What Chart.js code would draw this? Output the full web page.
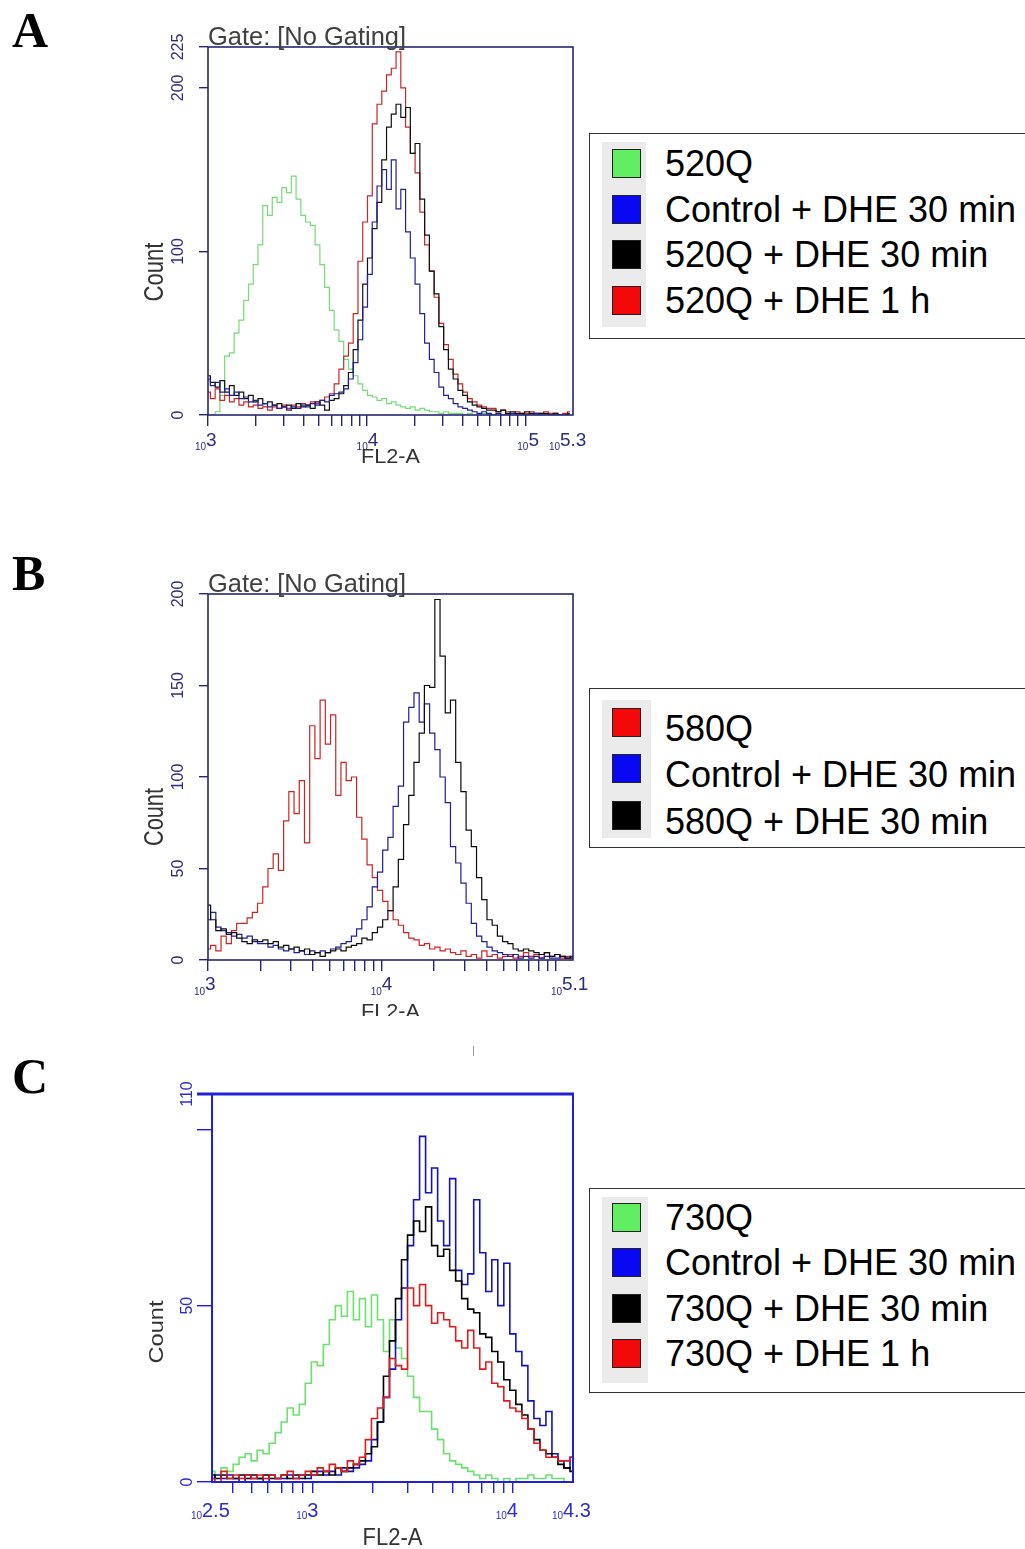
<!DOCTYPE html>
<html>
<head>
<meta charset="utf-8">
<script src="https://cdn.jsdelivr.net/npm/chart.js@4/dist/chart.umd.min.js"></script>
<style>
body { margin: 0; background: #fff; }
#page { position: relative; width: 1025px; height: 1549px; overflow: hidden; background: #fff; font-family: "Liberation Sans", Arial, sans-serif; }
canvas { position: absolute; }
.letter { position: absolute; left: 12px; font: bold 50px "Liberation Serif", "Times New Roman", serif; line-height: 50px; color: #000; }
.lgbox { position: absolute; box-sizing: border-box; border: 1px solid #333; background: #fff; }
.shade { position: absolute; background: #ebebeb; }
.sw { position: absolute; box-sizing: border-box; width: 29px; height: 29px; border: 1px solid #222; }
.tx { position: absolute; left: 665px; font-size: 36px; line-height: 36px; color: #000; white-space: nowrap; }
</style>
</head>
<body>
<div id="page">
  <div class="letter" style="top:5px">A</div>
  <div class="letter" style="top:548px">B</div>
  <div class="letter" style="top:1051px">C</div>
  <canvas id="chartA" width="470" height="470" style="left:130px;top:20px"></canvas>
  <canvas id="chartB" width="470" height="456" style="left:130px;top:560px"></canvas>
  <canvas id="chartC" width="470" height="479" style="left:130px;top:1070px"></canvas>
  <div style="position:absolute;left:473px;top:1046px;width:1px;height:10px;background:#999"></div>
</div>
<script>
// histogram channels: first bin exponent (log10 FL2-A) and bin width in decades
const binStartA = 3.0, binStartB = 3.0, binStartC = 2.5, binWidth = 0.03;

// panel A counts
const countsA_520Q = [0,0,2,12,36,38,50,58,70,80, 92,104,128,122,133,130,139,136,146,132, 122,118,116,104,92,78,64,52,45,34, 28,24,19,15,12,11,9,10,7,8, 6,5,4,5,3,4,3,2,2,1, 2,1,1,1,0,1,0,0,1,0, 0,1,0,0,0,0,0,0,1,0, 0,0,0,0,0,0,0];
const countsA_control = [22,18,20,14,16,12,14,10,11,8, 9,6,7,5,6,4,5,3,5,4, 6,5,7,6,9,8,12,13,14,16, 22,32,46,66,86,118,140,150,138,156, 126,138,112,96,80,62,44,34,26,17, 12,10,7,5,4,3,2,1,2,1, 0,1,0,0,1,0,0,0,0,1, 0,0,0,0,0,0,0];
const countsA_dhe30 = [24,20,17,21,14,18,12,14,10,12, 8,10,7,8,6,7,5,6,4,7, 5,6,4,8,6,3,9,10,13,18, 26,40,58,80,96,114,130,156,176,184, 190,182,188,160,166,132,110,88,74,54, 40,28,22,15,12,8,6,5,4,3, 3,2,3,1,2,1,1,2,1,0, 1,1,0,1,0,0,1];
const countsA_dhe1h = [14,10,16,9,12,8,10,6,8,5, 6,4,5,3,5,4,6,4,6,5, 7,6,8,7,9,11,13,19,28,36, 44,62,94,118,134,178,190,198,208,212, 222,200,176,160,148,124,104,88,72,56, 43,34,25,19,14,10,8,6,5,4, 4,2,3,2,1,2,1,1,2,1, 1,2,1,1,0,1,2];

// panel B counts
const countsB_580Q = [6,8,5,13,9,16,20,20,23,26, 31,40,50,58,49,76,92,80,98,64, 128,110,142,118,134,90,108,98,100,78, 66,52,45,38,32,27,22,19,15,12, 11,8,9,6,7,5,6,4,3,5, 2,3,1,5,2,3,1,2,3,1, 2,4,2,3,1,4,2,3,1,2, 1];
const countsB_control = [22,26,18,16,15,13,14,12,13,10, 9,9,7,8,6,5,6,4,5,3, 5,4,5,4,6,7,9,10,13,17, 22,29,40,48,60,67,84,95,130,138, 146,130,140,124,115,100,86,62,53,42, 31,20,13,10,7,5,4,3,2,3, 1,2,1,2,1,2,1,1,2,1, 1];
const countsB_dhe30 = [30,22,16,17,14,15,12,10,9,11, 10,11,9,10,7,8,6,7,5,6, 3,4,2,4,5,6,5,7,8,9, 12,11,15,18,22,27,40,55,74,90, 108,124,150,149,197,166,135,142,108,92, 71,62,45,33,22,19,13,10,9,6, 5,6,5,4,3,4,2,3,2,1, 2];

// panel C counts
const countsC_730Q = [3,2,4,3,5,7,8,6,9,8, 11,14,17,21,19,22,28,34,33,39, 46,50,47,54,46,52,44,53,46,37, 46,38,35,30,24,20,20,15,12,8, 6,5,4,3,2,1,2,1,0,1, 0,1,1,2,1,1,2,1,1,0, 0];
const countsC_control = [1,2,1,2,1,0,2,1,1,0, 2,1,1,2,1,2,1,2,3,2, 3,2,4,3,4,5,6,12,17,24, 32,46,55,67,80,98,82,89,74,67, 86,60,56,59,80,65,54,63,50,62, 42,37,33,23,18,16,20,8,6,4, 7];
const countsC_dhe30 = [2,1,2,1,1,2,1,2,1,2, 1,1,2,1,2,1,2,3,2,3, 2,4,3,4,5,6,8,10,17,30, 40,52,63,70,74,71,78,67,64,66, 60,57,52,49,48,42,41,37,34,29, 26,22,19,15,12,9,8,7,5,4, 3];
const countsC_dhe1h = [1,0,3,1,2,1,2,1,2,1, 2,1,2,3,1,2,3,2,4,3, 5,4,3,6,5,7,12,18,21,24, 35,33,32,55,50,56,50,45,48,46, 44,40,38,43,38,32,34,28,27,23, 21,20,18,15,11,9,7,7,6,6, 7];

// axes: x ranges (log10), labelled exponents, y ticks
const xRangeA = [3, 5.3], xRangeB = [3, 5.1], xRangeC = [2.5, 4.3];
const xLabelExpA = [3, 4, 5, 5.3], xLabelTextA = ['3', '4', '5', '5.3'];
const xLabelExpB = [3, 4, 5.1], xLabelTextB = ['3', '4', '5.1'];
const xLabelExpC = [2.5, 3, 4, 4.3], xLabelTextC = ['2.5', '3', '4', '4.3'];
const xTicksA = [1000,2000,3000,4000,5000,6000,7000,8000,9000,10000,20000,30000,40000,50000,60000,70000,80000,90000,100000];
const xTicksB = xTicksA;
const xTicksC = [400,500,600,700,800,900,1000,2000,3000,4000,5000,6000,7000,8000,9000,10000];
const yTicksA = [0, 100, 200, 225], yTextA = ['0', '100', '200', '225'];
const yTicksB = [0, 50, 100, 150, 200], yTextB = ['0', '50', '100', '150', '200'];
const yTicksC = [0, 50, 100, 110], yTextC = ['0', '50', '', '110'];

// legends
const legendLabelsA = ['520Q', 'Control + DHE 30 min', '520Q + DHE 30 min', '520Q + DHE 1 h'];
const legendLabelsB = ['580Q', 'Control + DHE 30 min', '580Q + DHE 30 min'];
const legendLabelsC = ['730Q', 'Control + DHE 30 min', '730Q + DHE 30 min', '730Q + DHE 1 h'];
const legendColorsA = ['#62ee62', '#0808f2', '#000000', '#f20808'];
const legendColorsB = ['#f20808', '#0808f2', '#000000'];
const legendColorsC = ['#62ee62', '#0808f2', '#000000', '#f20808'];

function series(start, counts) {
  return counts.map((c, i) => ({ x: Math.pow(10, start + i * binWidth), y: c }));
}

function fitText(ctx, text, x, y, w, rot) {
  const m = ctx.measureText(text).width;
  ctx.save();
  ctx.translate(x, y);
  if (rot) ctx.rotate(-Math.PI / 2);
  ctx.scale(w / m, 1);
  ctx.textAlign = 'center';
  ctx.fillText(text, 0, 0);
  ctx.restore();
}

function decor(o) {
  return {
    id: 'decor',
    afterDraw(chart) {
      const ctx = chart.ctx, a = chart.chartArea;
      const xs = chart.scales.x, ys = chart.scales.y;
      ctx.save();
      ctx.strokeStyle = o.axis;
      ctx.lineWidth = o.frameW;
      ctx.strokeRect(a.left, a.top, a.right - a.left, a.bottom - a.top);
      if (o.topBar) {
        ctx.lineWidth = 3;
        ctx.beginPath();
        ctx.moveTo(a.left - o.yTickLen, a.top);
        ctx.lineTo(a.right + 1, a.top);
        ctx.stroke();
      }
      ctx.fillStyle = o.label;
      ctx.textBaseline = 'alphabetic';
      o.xLabelExp.forEach((e, i) => {
        const px = xs.getPixelForValue(Math.pow(10, e)) + o.xLabelDx[i];
        ctx.font = '10px "Liberation Sans"';
        ctx.textAlign = 'right';
        ctx.fillText('10', px, a.bottom + o.tenDy);
        ctx.font = o.expFont;
        ctx.textAlign = 'left';
        ctx.fillText(o.xLabelText[i], px, a.bottom + o.expDy);
      });
      ctx.font = '16px "Liberation Sans"';
      o.yTicks.forEach((v, i) => {
        if (!o.yText[i]) return;
        const py = ys.getPixelForValue(v);
        ctx.save();
        ctx.translate(a.left - o.yGap, py);
        ctx.rotate(-Math.PI / 2);
        ctx.textAlign = 'center';
        ctx.fillText(o.yText[i], 0, 0);
        ctx.restore();
      });
      ctx.fillStyle = '#333';
      if (o.gate) {
        ctx.fillStyle = '#404040';
        ctx.font = '26px "Liberation Sans"';
        const m = ctx.measureText('Gate: [No Gating]').width;
        ctx.save();
        ctx.translate(a.left, a.top - 2);
        ctx.scale(198 / m, 1);
        ctx.textAlign = 'left';
        ctx.fillText('Gate: [No Gating]', 0, 0);
        ctx.restore();
        ctx.fillStyle = '#333';
      }
      ctx.font = o.countFont;
      fitText(ctx, 'Count', a.left - o.countGap, (a.top + a.bottom) / 2 + o.countDy, o.countLen, true);
      ctx.font = o.flFont;
      fitText(ctx, 'FL2-A', (a.left + a.right) / 2, a.bottom + o.flDy, o.flLen, false);
      ctx.restore();
    }
  };
}

function histChart(id, o) {
  return new Chart(document.getElementById(id), {
    type: 'line',
    data: {
      datasets: o.sets.map(s => ({
        data: series(o.start, s.counts),
        borderColor: s.color,
        borderWidth: o.lineW,
        pointRadius: 0,
        stepped: 'middle',
        fill: false
      }))
    },
    options: {
      responsive: false,
      animation: false,
      devicePixelRatio: 1,
      events: [],
      layout: { padding: o.pad },
      plugins: { legend: { display: false }, tooltip: { enabled: false } },
      scales: {
        x: {
          type: 'logarithmic',
          min: Math.pow(10, o.xRange[0]),
          max: Math.pow(10, o.xRange[1]),
          afterBuildTicks: s => { s.ticks = o.xTicks.map(v => ({ value: v })); },
          afterFit: s => { s.height = 0; },
          ticks: { display: false },
          border: { display: false },
          grid: { drawOnChartArea: false, drawTicks: true, tickLength: 11, color: o.axis, lineWidth: 1.4 }
        },
        y: {
          min: 0,
          max: o.yTicks[o.yTicks.length - 1],
          afterBuildTicks: s => { s.ticks = o.yTicks.map(v => ({ value: v })); },
          afterFit: s => { s.width = 0; },
          ticks: { display: false },
          border: { display: false },
          grid: { drawOnChartArea: false, drawTicks: true, tickLength: o.yTickLen, color: o.axis, lineWidth: 1.4 }
        }
      }
    },
    plugins: [decor(o)]
  });
}

const navy = '#262675';

histChart('chartA', {
  start: binStartA, xRange: xRangeA, xTicks: xTicksA, yTicks: yTicksA, yText: yTextA,
  xLabelExp: xLabelExpA, xLabelText: xLabelTextA, xLabelDx: [-2, 1, 3, -13],
  sets: [
    { counts: countsA_control, color: '#20209a' },
    { counts: countsA_dhe30, color: '#101010' },
    { counts: countsA_dhe1h, color: '#cc2626' },
    { counts: countsA_520Q, color: '#74dc74' }
  ],
  pad: { left: 78, top: 27, right: 27, bottom: 75 },
  axis: navy, label: '#2c2c7c', frameW: 1.6, lineW: 1.2, yTickLen: 9, yGap: 25, gate: true,
  tenDy: 35, expDy: 31, expFont: '19px "Liberation Sans"',
  countFont: '27px "Liberation Sans"', countGap: 45, countDy: 41, countLen: 59,
  flFont: '21px "Liberation Sans"', flDy: 48, flLen: 59
});

histChart('chartB', {
  start: binStartB, xRange: xRangeB, xTicks: xTicksB, yTicks: yTicksB, yText: yTextB,
  xLabelExp: xLabelExpB, xLabelText: xLabelTextB, xLabelDx: [-3, 0, -11],
  sets: [
    { counts: countsB_dhe30, color: '#0c0c0c' },
    { counts: countsB_control, color: '#1e1e9e' },
    { counts: countsB_580Q, color: '#cc2424' }
  ],
  pad: { left: 78, top: 34, right: 27, bottom: 56 },
  axis: navy, label: '#2c2c7c', frameW: 1.6, lineW: 1.2, yTickLen: 9, yGap: 25, gate: true,
  tenDy: 35, expDy: 30, expFont: '19px "Liberation Sans"',
  countFont: '27px "Liberation Sans"', countGap: 45, countDy: 40, countLen: 58,
  flFont: '21px "Liberation Sans"', flDy: 58, flLen: 59
});

histChart('chartC', {
  start: binStartC, xRange: xRangeC, xTicks: xTicksC, yTicks: yTicksC, yText: yTextC,
  xLabelExp: xLabelExpC, xLabelText: xLabelTextC, xLabelDx: [-10, -5, -6, -10],
  sets: [
    { counts: countsC_dhe1h, color: '#de1c1c' },
    { counts: countsC_dhe30, color: '#000000' },
    { counts: countsC_control, color: '#1212c4' },
    { counts: countsC_730Q, color: '#6ce26c' }
  ],
  pad: { left: 82, top: 24, right: 27, bottom: 67 },
  axis: '#2020d8', label: '#2c2cd0', frameW: 2, lineW: 1.6, yTickLen: 15, yGap: 20, topBar: true,
  tenDy: 37, expDy: 35, expFont: '20px "Liberation Sans"',
  countFont: '21px "Liberation Sans"', countGap: 49, countDy: 44, countLen: 63,
  flFont: '23px "Liberation Sans"', flDy: 63, flLen: 60
});

function addLegend(labels, colors, box, shade, baselines, swatchDy) {
  const page = document.getElementById('page');
  const el = (cls, css, text) => {
    const d = document.createElement('div');
    d.className = cls;
    Object.assign(d.style, css);
    if (text) d.textContent = text;
    page.appendChild(d);
    return d;
  };
  el('lgbox', { left: box[0] + 'px', top: box[1] + 'px', width: '470px', height: box[2] + 'px' });
  el('shade', { left: shade[0] + 'px', top: shade[1] + 'px', width: shade[2] + 'px', height: shade[3] + 'px' });
  labels.forEach((t, i) => {
    el('sw', { left: '612px', top: (baselines[i] - swatchDy) + 'px', background: colors[i] });
    el('tx', { top: (baselines[i] - 31) + 'px' }, t);
  });
}

addLegend(legendLabelsA, legendColorsA, [589, 133, 206], [602, 142, 44, 185], [177, 222.5, 268, 313.5], 28);
addLegend(legendLabelsB, legendColorsB, [589, 688, 160], [602, 700, 49, 138], [742, 788, 835], 34);
addLegend(legendLabelsC, legendColorsC, [589, 1188, 205], [602, 1197, 46, 186], [1231, 1276, 1322, 1367], 28);
</script>
</body>
</html>
